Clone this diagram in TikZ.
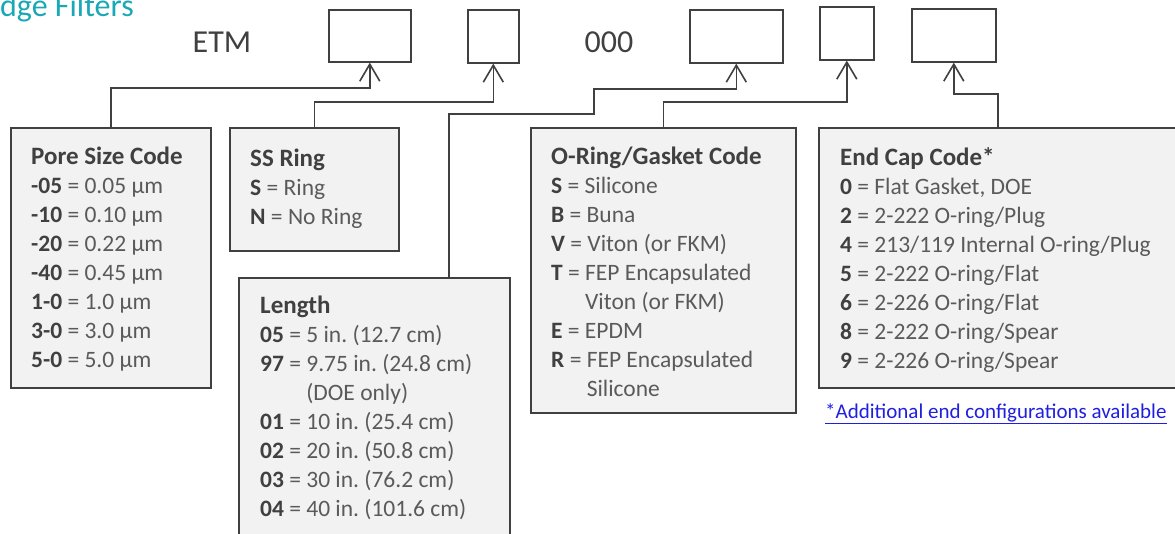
\documentclass[tikz,border=0pt]{standalone}
\usepackage{fontspec}
\setmainfont{Carlito}
\usepackage{xcolor}
\usetikzlibrary{arrows.meta, positioning}
\definecolor{ink}{HTML}{404040}
\definecolor{soft}{HTML}{5A5A5A}
\definecolor{panel}{HTML}{F2F2F2}
\definecolor{brandteal}{HTML}{1AA7B6}
\definecolor{linkblue}{HTML}{1F1FE0}
\newcommand{\kc}[1]{{\bfseries\color{ink}#1}}
\frenchspacing

\begin{document}
\begin{tikzpicture}[x=1pt, y=-1pt,
    slot/.style={rectangle, draw=ink, line width=1.6pt, inner sep=0pt, anchor=north west},
    codebox/.style={rectangle, draw=ink, fill=panel, line width=1.6pt, inner sep=0pt, anchor=north west},
    codetxt/.style={anchor=north west, inner sep=0pt, align=left, text=soft,
                    font=\fontsize{23.5}{29}\selectfont},
    link/.style={draw=ink, line width=1.6pt, -{Straight Barb[length=17pt,width=20pt]}},
]
\useasboundingbox (0,0) rectangle (1175,533);

% heading and part number
\node[anchor=base west, inner sep=0pt, text=brandteal, font=\fontsize{32}{32}\selectfont] (heading) at (0,16) {dge Filters};
\node[text=ink, font=\fontsize{32}{32}\selectfont] (prefix) at (222,42) {ETM};
\node[text=ink, font=\fontsize{32}{32}\selectfont] (filler) at (609,42) {000};
\node[slot, minimum width=82, minimum height=52] (slotpore) at (328,9) {};
\node[slot, minimum width=51, minimum height=53] (slotring) at (467,9) {};
\node[slot, minimum width=93, minimum height=53] (slotlen)  at (689,9) {};
\node[slot, minimum width=54, minimum height=53] (slotseal) at (819,6) {};
\node[slot, minimum width=84, minimum height=53] (slotcap)  at (911,8) {};

% code boxes
\node[codebox, minimum width=200, minimum height=260] (pore) at (10,127)  {};
\node[codebox, minimum width=169, minimum height=123] (ring) at (229,127) {};
\node[codebox, minimum width=271, minimum height=280] (len)  at (238,277) {};
\node[codebox, minimum width=265, minimum height=285] (seal) at (530,127) {};
\node[codebox, minimum width=380, minimum height=260] (cap)  at (818,127) {};

\node[codetxt] (poretxt) at (31,147) {\kc{\fontsize{25}{29}\selectfont Pore Size Code}\\
  \kc{-05} = 0.05 µm\\ \kc{-10} = 0.10 µm\\ \kc{-20} = 0.22 µm\\ \kc{-40} = 0.45 µm\\
  \kc{1-0} = 1.0 µm\\ \kc{3-0} = 3.0 µm\\ \kc{5-0} = 5.0 µm};
\node[codetxt] (ringtxt) at (250,149) {\kc{\fontsize{25}{29}\selectfont SS Ring}\\
  \kc{S} = Ring\\ \kc{N} = No Ring};
\node[codetxt] (lentxt) at (260,296) {\kc{\fontsize{25}{29}\selectfont Length}\\
  \kc{05} = 5 in. (12.7 cm)\\ \kc{97} = 9.75 in. (24.8 cm)\\
  \phantom{\kc{97} = }(DOE only)\\ \kc{01} = 10 in. (25.4 cm)\\
  \kc{02} = 20 in. (50.8 cm)\\ \kc{03} = 30 in. (76.2 cm)\\ \kc{04} = 40 in. (101.6 cm)};
\node[codetxt] (sealtxt) at (551,147) {\kc{\fontsize{25}{29}\selectfont O-Ring/Gasket Code}\\
  \kc{S} = Silicone\\ \kc{B} = Buna\\ \kc{V} = Viton (or FKM)\\
  \kc{T} = FEP Encapsulated\\ \phantom{\kc{T} = }Viton (or FKM)\\ \kc{E} = EPDM\\
  \kc{R} = FEP Encapsulated\\ \phantom{\kc{R} = }Silicone};
\node[codetxt] (captxt) at (840,147) {\kc{\fontsize{25}{29}\selectfont End Cap Code*}\\
  \kc{0} = Flat Gasket, DOE\\ \kc{2} = 2-222 O-ring/Plug\\
  \kc{4} = 213/119 Internal O-ring/Plug\\ \kc{5} = 2-222 O-ring/Flat\\
  \kc{6} = 2-226 O-ring/Flat\\ \kc{8} = 2-222 O-ring/Spear\\ \kc{9} = 2-226 O-ring/Spear};
\node[anchor=base west, inner sep=0pt, text=linkblue, font=\fontsize{21}{21}\selectfont] (footnote) at (825,418)
  {\underline{*Additional end configurations available}};

% connectors
\coordinate (lentop) at ([xshift=211pt]len.north west);
\coordinate (lenbend) at (594,114);
\coordinate (captop) at ([xshift=180pt]cap.north west);
\draw[link] (pore.north) -- (pore.north |- 0,88) -| (slotpore.south);
\draw[link] (ring.north) -- (ring.north |- 0,102) -| (slotring.south);
\draw[link] (lentop) |- (lenbend) -- (lenbend |- 0,89) -| (slotlen.south);
\draw[link] (seal.north) -- (seal.north |- 0,102) -| (slotseal.south);
\draw[link] (captop) -- (captop |- 0,94) -| (slotcap.south);
\end{tikzpicture}
\end{document}
